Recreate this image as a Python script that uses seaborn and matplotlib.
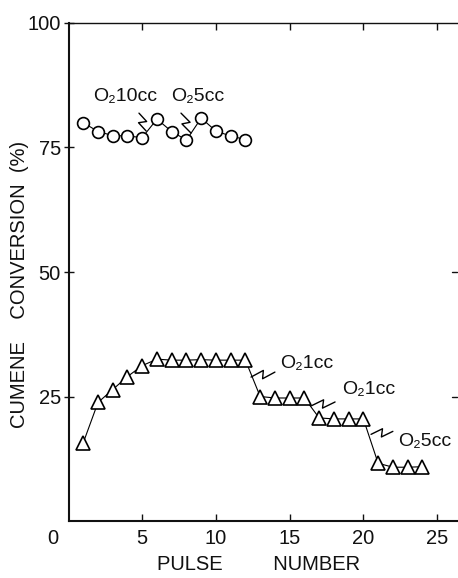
import numpy as np
import pandas as pd
import matplotlib
matplotlib.use("Agg")
import matplotlib.pyplot as plt
import seaborn as sns

# Cumene conversion per pulse
pulse_o2 = list(range(1, 13))
conv_o2 = [80.0, 78.2, 77.4, 77.3, 77.0, 80.7, 78.2, 76.5, 80.9, 78.3, 77.3, 76.6]

pulse_he = list(range(1, 25))
conv_he = [15.7, 23.8, 26.4, 29.0, 31.2, 32.5, 32.3, 32.3, 32.4, 32.3, 32.3, 32.3,
           25.0, 24.7, 24.7, 24.7, 20.7, 20.5, 20.5, 20.5, 11.6, 10.8, 10.8, 10.9]

x_ticks = [5, 10, 15, 20, 25]
y_ticks = [25, 50, 75, 100]

# Oxygen-dose notes: (text, text x, text y, zigzag start, zigzag end)
notes = [
    ("O\u208210cc", 1.66, 85.3, (4.78, 81.9), (5.27, 78.3)),
    ("O\u20825cc", 6.95, 85.3, (7.63, 81.9), (8.31, 77.9)),
    ("O\u20821cc", 14.35, 31.7, (12.38, 28.9), (14.0, 29.9)),
    ("O\u20821cc", 18.55, 26.5, (16.45, 23.1), (18.08, 23.9)),
    ("O\u20825cc", 22.35, 15.9, (20.52, 17.4), (22.0, 18.0)),
]

sns.set_theme(style="white")
plt.rcParams["font.family"] = ["Liberation Sans", "DejaVu Sans"]

W, H = 458, 578
fig = plt.figure(figsize=(W / 100, H / 100), dpi=100)
ax = fig.add_axes([68.5 / W, 1 - 521 / H, 388.5 / W, 498 / H])

df_o2 = pd.DataFrame({"pulse": pulse_o2, "conv": conv_o2})
df_he = pd.DataFrame({"pulse": pulse_he, "conv": conv_he})

sns.lineplot(data=df_o2, x="pulse", y="conv", ax=ax, color="black", lw=0.8,
             marker="o", markersize=8.5, markerfacecolor="white",
             markeredgecolor="black", markeredgewidth=1.2)
sns.lineplot(data=df_he, x="pulse", y="conv", ax=ax, color="black", lw=0.8,
             marker="^", markersize=10, markerfacecolor="white",
             markeredgecolor="black", markeredgewidth=1.2)

ax.set_xlim(0, 26.35)
ax.set_ylim(0, 100)
ax.set_xticks(x_ticks)
ax.set_yticks(y_ticks)
ax.set_xticklabels([str(v) for v in x_ticks], fontsize=14.5, color="#111")
ax.set_yticklabels([str(v) for v in y_ticks], fontsize=14.5, color="#111")
ax.tick_params(axis="x", direction="in", length=5, width=1, top=True, bottom=True, pad=6,
               colors="#111")
ax.tick_params(axis="y", direction="inout", length=7, width=1, left=True, pad=2,
               colors="#111")
ax.set_xlabel("")
ax.set_ylabel("")

for side in ["left", "bottom"]:
    ax.spines[side].set_linewidth(1.5)
    ax.spines[side].set_color("#111")
ax.spines["top"].set_linewidth(1.0)
ax.spines["top"].set_color("#111")
ax.spines["right"].set_visible(False)

# short right-side marks
for yv in [25, 50]:
    ax.plot([26.0, 26.35], [yv, yv], color="#111", lw=1, clip_on=False)

fig.text(53 / W, 1 - 538 / H, "0", fontsize=14.5, ha="center", va="center", color="#111")
fig.text(259 / W, 1 - 565 / H, "PULSE         NUMBER", fontsize=14.5, ha="center",
         va="center", color="#111")
fig.text(20 / W, 1 - 284 / H, "CUMENE    CONVERSION  (%)", fontsize=14.5, rotation=90,
         ha="center", va="center", color="#111")

fig.canvas.draw()
to_px = ax.transData
to_data = ax.transData.inverted()


def zigzag(p0, p1):
    a = np.array(to_px.transform(p0))
    b = np.array(to_px.transform(p1))
    d = b - a
    n = np.array([-d[1], d[0]]) / (np.hypot(*d) + 1e-9)
    k = 4.0
    pts = [a, a + 0.55 * d + n * k, a + 0.45 * d - n * k, b]
    pts = to_data.transform(np.array(pts))
    ax.plot(pts[:, 0], pts[:, 1], color="black", lw=1.0, clip_on=False)


for text, tx, ty, z0, z1 in notes:
    ax.text(tx, ty, text, fontsize=14, ha="left", va="center", color="#111")
    zigzag(z0, z1)

fig.savefig("out.png", dpi=100, facecolor="white")
